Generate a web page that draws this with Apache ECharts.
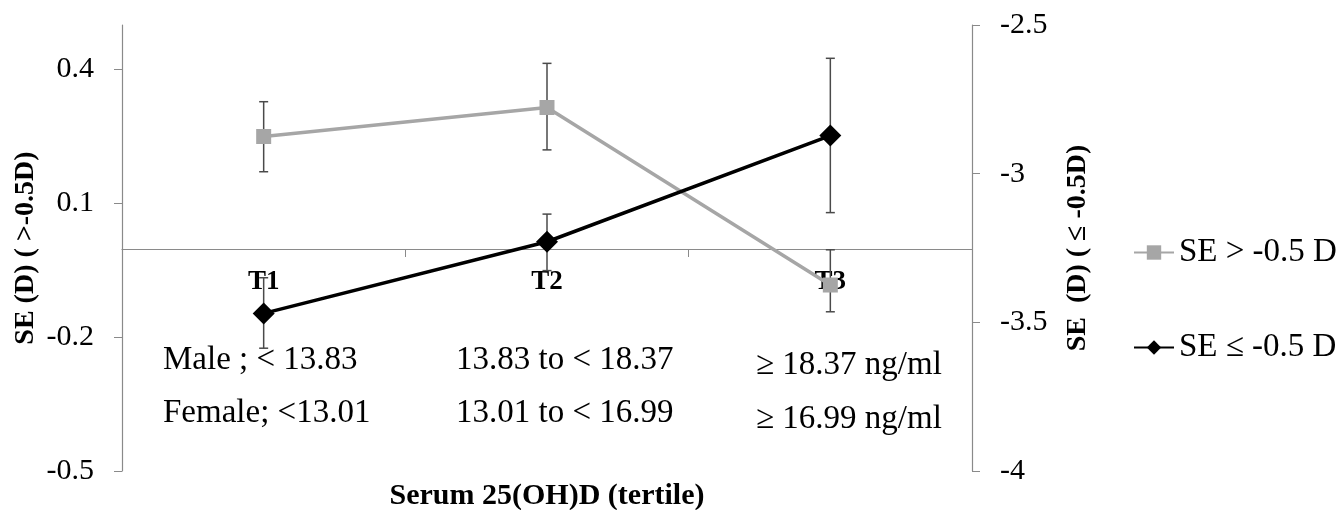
<!DOCTYPE html>
<html>
<head>
<meta charset="utf-8">
<title>SE by serum 25(OH)D tertile</title>
<script src="https://cdn.jsdelivr.net/npm/echarts@6/dist/echarts.min.js"></script>
<style>
  html, body { margin: 0; padding: 0; background: #fff; }
  #chart { width: 1338px; height: 510px; }
</style>
</head>
<body>
<div id="chart"></div>
<script>
// categories and tick labels
const categories = ['T1', 'T2', 'T3']
const leftTicks = [-0.5, -0.2, 0.1, 0.4]
const rightTicks = [-4, -3.5, -3, -2.5]

// SE > -0.5 D (left axis): mean and error bar ends
const seAbove = [0.25, 0.315, -0.083]
const seAboveLow = [0.171, 0.22, -0.143]
const seAboveHigh = [0.328, 0.414, -0.004]

// SE <= -0.5 D (right axis)
const seBelow = [-3.47, -3.229, -2.872]
const seBelowLow = [-3.587, -3.326, -3.131]
const seBelowHigh = [-3.35, -3.136, -2.612]

// tertile cut-offs printed inside the plot
const maleRanges = ['Male ; < 13.83', '13.83 to < 18.37', '\u2265 18.37 ng/ml']
const femaleRanges = ['Female; <13.01', '13.01 to < 16.99', '\u2265 16.99 ng/ml']

const FONT = 'Liberation Serif'
const axisGray = '#8a8a8a'

const toErrData = (low, high) => low.map((v, i) => [i, v, high[i]])

const errorBar = (params, api) => {
	const idx = api.value(0)
	const lo = api.coord([idx, api.value(1)])
	const hi = api.coord([idx, api.value(2)])
	const half = 4.5
	const style = { stroke: '#4a4a4a', lineWidth: 1.5 }
	return {
		type: 'group',
		children: [
			{ type: 'line', shape: { x1: hi[0], y1: hi[1], x2: lo[0], y2: lo[1] }, style },
			{ type: 'line', shape: { x1: hi[0] - half, y1: hi[1], x2: hi[0] + half, y2: hi[1] }, style },
			{ type: 'line', shape: { x1: lo[0] - half, y1: lo[1], x2: lo[0] + half, y2: lo[1] }, style }
		]
	}
}

const rangeText = (list, y, yOffsets) => list.map((t, i) => ({
	type: 'text',
	left: [163, 456, 756][i],
	top: y + (yOffsets ? yOffsets[i] : 0),
	style: { text: t, font: '33px "' + FONT + '"', fill: '#000' }
}))

const chart = echarts.init(document.getElementById('chart'))

const option = {
	animation: false,
	textStyle: { fontFamily: FONT },
	grid: { left: 122, right: 366, top: 25, bottom: 39, containLabel: false, outerBoundsMode: 'none' },
	legend: {
		orient: 'vertical',
		left: 1128,
		top: 231,
		itemWidth: 40,
		itemHeight: 18,
		itemGap: 62,
		data: ['SE > -0.5 D', 'SE \u2264 -0.5 D'],
		textStyle: { fontSize: 33, fontFamily: FONT, color: '#000' }
	},
	xAxis: {
		type: 'category',
		data: categories,
		// axis sits on the left axis' zero line (222px above the grid bottom)
		offset: -222,
		name: 'Serum 25(OH)D (tertile)',
		nameLocation: 'middle',
		nameGap: 232,
		nameMoveOverlap: false,
		nameTextStyle: { fontSize: 30, fontWeight: 'bold', color: '#000', fontFamily: FONT },
		axisLine: { onZero: false, lineStyle: { color: axisGray, width: 1.2 } },
		axisTick: { show: true, length: 8, lineStyle: { color: axisGray } },
		axisLabel: { margin: 20, fontSize: 27, fontWeight: 'bold', color: '#000', fontFamily: FONT }
	},
	yAxis: [
		{
			type: 'value',
			min: -0.5,
			max: 0.5,
			name: 'SE (D) ( >-0.5D)',
			nameLocation: 'middle',
			nameRotate: 90,
			nameGap: 82,
			nameMoveOverlap: false,
			nameTextStyle: { fontSize: 28, fontWeight: 'bold', color: '#000', fontFamily: FONT },
			axisLine: { show: true, lineStyle: { color: axisGray, width: 1.2 } },
			axisTick: { show: true, length: 8, customValues: leftTicks, lineStyle: { color: axisGray } },
			axisLabel: { customValues: leftTicks, margin: 28, fontSize: 30, color: '#000', fontFamily: FONT },
			splitLine: { show: false }
		},
		{
			type: 'value',
			min: -4,
			max: -2.5,
			interval: 0.5,
			position: 'right',
			name: 'SE  (D) ( \u2264 -0.5D)',
			nameLocation: 'middle',
			nameRotate: 90,
			nameGap: 92,
			nameTextStyle: { fontSize: 28, fontWeight: 'bold', color: '#000', fontFamily: FONT },
			axisLine: { show: true, lineStyle: { color: axisGray, width: 1.2 } },
			axisTick: { show: true, length: 8, customValues: rightTicks, lineStyle: { color: axisGray } },
			axisLabel: { customValues: rightTicks, margin: 28, fontSize: 30, color: '#000', fontFamily: FONT },
			splitLine: { show: false }
		}
	],
	series: [
		{
			type: 'custom',
			yAxisIndex: 0,
			renderItem: errorBar,
			encode: { x: 0, y: [1, 2] },
			data: toErrData(seAboveLow, seAboveHigh),
			z: 1
		},
		{
			type: 'custom',
			yAxisIndex: 1,
			renderItem: errorBar,
			encode: { x: 0, y: [1, 2] },
			data: toErrData(seBelowLow, seBelowHigh),
			z: 1
		},
		{
			name: 'SE > -0.5 D',
			type: 'line',
			yAxisIndex: 0,
			data: seAbove,
			symbol: 'rect',
			symbolSize: 15,
			itemStyle: { color: '#a6a6a6' },
			lineStyle: { color: '#a6a6a6', width: 3.5 },
			z: 3
		},
		{
			name: 'SE \u2264 -0.5 D',
			type: 'line',
			yAxisIndex: 1,
			data: seBelow,
			symbol: 'diamond',
			symbolSize: 22,
			itemStyle: { color: '#000' },
			lineStyle: { color: '#000', width: 3.5 },
			z: 4
		}
	],
	graphic: [
		...rangeText(maleRanges, 344, [0, 0, 5]),
		...rangeText(femaleRanges, 397, [0, 0, 6])
	]
}

chart.setOption(option)
</script>
</body>
</html>
